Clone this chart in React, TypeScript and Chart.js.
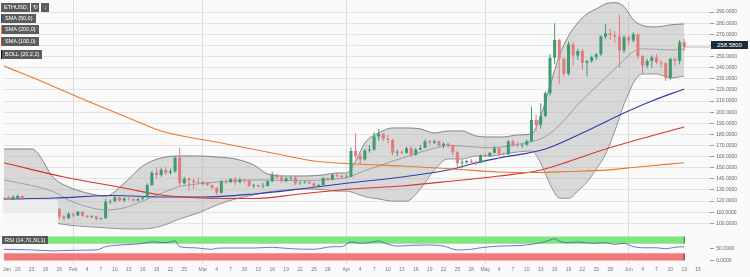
import React, { useEffect, useRef } from 'react';
import { Chart, registerables } from 'chart.js';

Chart.register(...registerables);

const FONT = '"Liberation Sans", Arial, sans-serif';

// Day index: 0 = 1 Jan 2019. Daily candles from 17 Jan (day 16) to 13 Jun (day 163).
const firstCandleDay = 16;

const opens = [
  122.0, 123.5, 121.5, 122.5, 124.5, 117.0, 116.2, 118.3, 116.4, 117.6,
  116.3, 116.0, 113.1, 106.1, 104.5, 108.7, 107.0, 110.5, 106.8, 105.8,
  106.4, 104.0, 104.5, 119.5, 120.0, 123.5, 120.5, 122.4, 121.8, 120.6,
  121.8, 123.3, 134.5, 145.5, 143.5, 148.0, 145.5, 146.8, 159.0, 136.0,
  140.0, 138.5, 137.0, 136.3, 136.8, 134.5, 132.0, 127.5, 137.5, 137.0,
  139.8, 137.0, 139.5, 138.8, 133.8, 134.5, 133.2, 133.6, 137.8, 143.8,
  141.2, 138.0, 140.3, 141.0, 136.0, 136.6, 137.2, 136.0, 133.2, 134.5,
  140.8, 139.5, 143.8, 142.8, 141.4, 142.0, 165.0, 160.5, 157.5, 165.5,
  166.5, 178.0, 180.5, 176.0, 175.0, 163.5, 164.5, 163.5, 167.5, 161.8,
  166.5, 167.8, 173.5, 172.5, 173.8, 170.0, 171.5, 170.5, 164.0, 154.0,
  155.0, 156.0, 155.0, 154.5, 161.0, 160.3, 163.5, 167.5, 162.5, 162.2,
  173.5, 170.3, 170.0, 170.6, 173.8, 193.0, 188.5, 196.5, 217.0, 249.0,
  265.0, 248.0, 234.5, 261.0, 251.0, 255.0, 244.5, 246.0, 249.5, 252.0,
  268.0, 271.0, 269.5, 268.0, 255.5, 267.5, 264.5, 270.0, 250.5, 242.0,
  246.0, 249.5, 244.8, 244.0, 231.0, 248.0, 246.3, 263.0,
];
const highs = [
  124.0, 124.5, 125.0, 126.0, 125.0, 118.0, 120.0, 119.0, 118.5, 118.5,
  119.5, 116.5, 113.5, 107.5, 110.0, 109.5, 111.0, 110.8, 107.5, 107.2,
  107.0, 105.0, 122.0, 121.5, 125.0, 124.0, 123.5, 124.5, 122.5, 123.0,
  124.5, 136.0, 147.0, 150.5, 150.0, 151.0, 149.0, 160.0, 168.0, 142.0,
  141.5, 140.0, 141.0, 138.0, 137.5, 135.0, 132.5, 139.0, 139.5, 140.5,
  142.0, 141.0, 140.0, 139.0, 135.5, 135.0, 136.5, 138.5, 146.5, 144.5,
  143.5, 141.5, 142.0, 142.5, 137.5, 138.5, 138.0, 136.8, 135.5, 141.5,
  141.0, 144.5, 145.5, 143.5, 144.0, 168.5, 181.0, 163.0, 167.0, 170.5,
  182.0, 185.0, 181.5, 179.5, 176.0, 166.5, 166.0, 169.0, 169.5, 168.0,
  170.5, 175.5, 175.0, 175.5, 174.5, 173.0, 172.5, 171.0, 165.5, 157.5,
  157.0, 158.0, 156.5, 162.0, 162.5, 164.0, 169.5, 168.5, 164.0, 175.0,
  175.5, 173.0, 171.5, 175.5, 205.0, 198.0, 208.0, 218.5, 252.0, 280.0,
  266.0, 249.0, 263.5, 263.0, 257.0, 257.0, 247.0, 251.0, 253.0, 269.0,
  279.0, 275.0, 273.0, 288.0, 269.0, 269.0, 272.0, 271.0, 251.5, 248.0,
  251.0, 252.0, 247.0, 245.0, 249.0, 249.0, 265.0, 266.0,
];
const lows = [
  119.0, 120.0, 120.5, 121.5, 115.5, 114.5, 113.0, 115.5, 115.0, 115.5,
  115.5, 111.5, 103.5, 102.5, 104.0, 105.5, 106.5, 106.0, 104.5, 104.8,
  102.5, 102.8, 104.0, 117.5, 118.5, 119.5, 119.0, 120.5, 119.5, 119.8,
  121.0, 122.5, 133.5, 140.0, 142.0, 143.5, 144.0, 145.5, 133.5, 135.0,
  129.5, 131.0, 135.5, 134.5, 133.5, 130.5, 125.5, 126.5, 135.5, 136.5,
  134.0, 136.0, 136.0, 132.5, 131.5, 132.5, 131.5, 133.0, 137.0, 140.0,
  136.5, 137.0, 138.5, 134.5, 134.5, 135.8, 135.0, 130.5, 132.0, 134.0,
  138.5, 139.0, 141.0, 140.5, 140.5, 141.5, 158.0, 153.5, 156.5, 163.5,
  165.5, 174.5, 174.0, 172.0, 161.0, 160.5, 162.0, 162.5, 159.5, 161.0,
  165.5, 167.5, 171.0, 171.5, 168.5, 167.5, 168.0, 161.0, 150.5, 149.5,
  153.5, 153.5, 152.0, 154.0, 159.5, 160.0, 162.5, 158.5, 161.0, 161.5,
  169.0, 168.5, 168.0, 169.5, 173.0, 183.0, 185.0, 195.5, 215.0, 243.0,
  225.0, 232.0, 233.0, 242.0, 247.0, 238.0, 232.0, 244.5, 247.0, 250.5,
  265.5, 265.0, 262.0, 240.0, 253.0, 260.0, 263.0, 248.0, 234.0, 239.5,
  240.0, 243.0, 240.0, 228.0, 229.0, 241.5, 243.0, 255.5,
];
const closes = [
  122.8, 121.5, 123.8, 124.5, 117.0, 116.2, 118.3, 116.4, 117.6, 116.3,
  116.0, 113.1, 106.1, 104.5, 108.7, 107.0, 110.5, 106.8, 105.8, 106.4,
  104.0, 104.5, 119.5, 120.0, 123.5, 120.5, 122.4, 121.8, 120.6, 121.8,
  123.3, 134.5, 145.5, 143.5, 148.0, 145.5, 146.8, 159.0, 136.0, 140.0,
  138.5, 137.0, 136.3, 136.8, 134.5, 132.0, 127.5, 137.5, 137.0, 139.8,
  137.0, 139.5, 138.8, 133.8, 134.5, 133.2, 133.6, 137.8, 143.8, 141.2,
  138.0, 140.3, 141.0, 136.0, 136.6, 137.2, 136.0, 133.2, 134.5, 140.8,
  139.5, 143.8, 142.8, 141.4, 142.0, 165.0, 160.5, 157.5, 165.5, 166.5,
  178.0, 180.5, 176.0, 175.0, 163.5, 164.5, 163.5, 167.5, 161.8, 166.5,
  167.8, 173.5, 172.5, 173.8, 170.0, 171.5, 170.5, 164.0, 154.0, 155.0,
  156.0, 155.0, 154.5, 161.0, 160.3, 163.5, 167.5, 162.5, 162.2, 173.5,
  170.3, 170.0, 170.6, 173.8, 193.0, 188.5, 196.5, 217.0, 249.0, 265.0,
  248.0, 234.5, 261.0, 251.0, 255.0, 244.5, 246.0, 249.5, 252.0, 268.0,
  271.0, 269.5, 268.0, 255.5, 267.5, 264.5, 270.0, 250.5, 242.0, 246.0,
  249.5, 244.8, 244.0, 231.0, 248.0, 246.3, 263.0, 258.58,
];

// Bollinger (20, 2)
const bbDays = [16, 22, 27, 30, 34, 38, 42, 46, 50, 54, 58, 62, 66, 70, 73, 77, 81, 85, 88, 90, 92, 94, 97, 100, 103, 106, 109, 112, 115, 118, 121, 124, 127, 130, 132, 134, 136, 138, 140, 142, 144, 146, 148, 150, 151, 152, 154, 157, 160, 163];
const bbUpper = [166.9, 166.9, 139.9, 132.7, 127.3, 124.5, 136, 151.6, 158.8, 160.6, 160.6, 159.7, 157.9, 152.5, 144.4, 142.6, 142.6, 143.5, 145.3, 145.3, 156.1, 172.3, 181.3, 185.8, 185.8, 184.9, 181.3, 183.1, 183.1, 178.6, 177.7, 177.7, 179.5, 180.4, 196.6, 223.6, 250.6, 268.6, 280.3, 288.4, 292.9, 297.4, 298.5, 295, 289, 283, 278, 276.7, 278.5, 279.4];
const bbMiddle = [139, 134, 128, 121, 115, 112, 114, 120, 127, 133, 135.5, 137.2, 138.2, 139, 139, 138.5, 138.5, 139, 140, 141, 144, 147.5, 151.5, 156, 160, 164, 167.5, 170, 169.5, 168.5, 168, 169, 171, 173.5, 176, 181, 188, 197, 207, 215, 223, 231, 239, 247, 251, 254.5, 257, 256.5, 256, 256.5];
const bbLower = [111, 103, 100.3, 98.5, 97, 96, 95, 95, 97.6, 104, 109.3, 116.5, 121.9, 125.5, 128.2, 130, 130.9, 130.5, 129, 129, 127, 124, 122, 120, 120, 131, 148, 158, 157.9, 160.6, 160.6, 162.4, 164.2, 165.1, 154.3, 135.4, 122.8, 122.5, 129.1, 137.2, 148.9, 162.4, 183.1, 207.4, 217, 226.3, 234.4, 234.4, 230.8, 232.6];

// Moving averages
const sma50Days = [16, 27, 40, 50, 59, 70, 80, 90, 102, 113, 117, 123, 133, 141, 150, 156, 163];
const sma50 = [121.9, 122.8, 125, 123.7, 123.7, 126.4, 130.9, 136.1, 141.7, 148.9, 153.4, 158.8, 166.9, 181.3, 199.3, 210.1, 220.9];
const sma100Days = [16, 29, 42, 50, 59, 70, 80, 91, 102, 113, 123, 131, 138, 145, 154, 163];
const sma100 = [154.5, 141.7, 131.8, 125.5, 122.8, 122.3, 126.4, 130.9, 133.6, 138.1, 142.6, 147, 155.5, 165.5, 176.5, 186.7];
const sma200Days = [16, 25, 33, 44, 50, 63, 74, 83, 92, 102, 113, 123, 131, 138, 146, 153, 163];
const sma200 = [241.6, 226.3, 211.9, 193, 183.1, 172.3, 163.3, 156.1, 153.4, 151.6, 148.9, 146.2, 145.7, 146.6, 147.9, 150.7, 154.5];

// RSI (14)
const rsiDays = [16, 22, 27, 31, 36, 38, 40, 44, 47, 48, 51, 53, 54, 57, 61, 62, 65, 70, 74, 78, 83, 85, 87, 89, 91, 93, 96, 97, 99, 101, 104, 107, 111, 114, 117, 119, 123, 128, 132, 134, 135, 136, 138, 140, 143, 146, 148, 150, 152, 155, 157, 159, 161, 163];
const rsiValues = [46.7, 44, 40, 42.5, 44, 57.5, 63, 67.5, 74, 78, 74, 81, 57.5, 53, 46.7, 51, 52, 52, 55, 49, 46.7, 52, 57.5, 57.5, 77, 71.5, 78, 81, 67.5, 60, 63, 64.5, 60, 44, 46.7, 53, 60, 63, 74, 85, 91, 80, 74, 77, 71.5, 74, 67.5, 71.5, 57.5, 53, 53, 49, 55, 57.5];

const lastPrice = 258.58;

// Axis ticks
const tickDays = [16.7, 19, 22, 25, 28, 31, 34, 37, 40, 43, 46, 49, 52, 55, 59, 62, 65, 68, 71, 74, 77, 80, 83, 86, 90, 93, 96, 99, 102, 105, 108, 111, 114, 117, 120, 123, 126, 129, 132, 135, 138, 141, 144, 147, 151, 154, 157, 160, 163, 166];
const tickLabels = ['Jan', '20', '23', '26', '29', 'Feb', '4', '7', '10', '13', '16', '19', '22', '25', 'Mar', '4', '7', '10', '13', '16', '19', '22', '25', '28', 'Apr', '4', '7', '10', '13', '16', '19', '22', '25', '28', 'May', '4', '7', '10', '13', '16', '19', '22', '25', '28', 'Jun', '4', '7', '10', '13', '16'];
const priceTicks = [100, 110, 120, 130, 140, 150, 160, 170, 180, 190, 200, 210, 220, 230, 240, 250, 260, 270, 280, 290];
const rsiTicks = [0, 50];

const legendItems = [
  { label: 'SMA (50,0)', color: '#2c3ea8', top: 14 },
  { label: 'SMA (200,0)', color: '#e8792e', top: 25 },
  { label: 'SMA (100,0)', color: '#d93434', top: 37 },
  { label: 'BOLL (20,2,2)', color: '#111111', top: 50 },
];

const GREEN = '#3e9a72';
const RED = '#df7c7e';

const boxBase: React.CSSProperties = {
  position: 'absolute',
  height: 9,
  lineHeight: '9px',
  padding: '0 3px',
  background: 'rgba(78,78,78,0.92)',
  color: '#ffffff',
  fontSize: 5.5,
  fontFamily: FONT,
  whiteSpace: 'nowrap',
  boxSizing: 'border-box',
};

export default function App() {
  const canvasRef = useRef<HTMLCanvasElement | null>(null);

  useEffect(() => {
    const canvas = canvasRef.current;
    if (!canvas) return;
    const candleX = closes.map((_, i) => firstCandleDay + i);
    const candleColors = closes.map((c, i) => (c >= opens[i] ? GREEN : RED));
    const pts = (xs: number[], ys: number[]) => xs.map((x, i) => ({ x, y: ys[i] }));
    const lineBase: any = {
      type: 'line',
      pointRadius: 0,
      pointHoverRadius: 0,
      cubicInterpolationMode: 'monotone',
      fill: false,
      xAxisID: 'x',
    };
    const lastDay = candleX[candleX.length - 1];

    const chart = new Chart(canvas, {
      type: 'bar',
      data: {
        datasets: [
          { ...lineBase, yAxisID: 'y', data: pts(bbDays, bbUpper), borderColor: '#6a6a6a', borderWidth: 0.8, backgroundColor: 'rgba(180,180,180,0.48)', fill: '+1', order: 6 },
          { ...lineBase, yAxisID: 'y', data: pts(bbDays, bbLower), borderColor: '#6a6a6a', borderWidth: 0.8, order: 6 },
          { ...lineBase, yAxisID: 'y', data: pts(bbDays, bbMiddle), borderColor: '#858585', borderWidth: 0.7, order: 5 },
          { ...lineBase, yAxisID: 'y', data: pts(sma200Days, sma200), borderColor: '#e8792e', borderWidth: 1.1, order: 4 },
          { ...lineBase, yAxisID: 'y', data: pts(sma100Days, sma100), borderColor: '#d93434', borderWidth: 1.1, order: 4 },
          { ...lineBase, yAxisID: 'y', data: pts(sma50Days, sma50), borderColor: '#2c3ea8', borderWidth: 1.1, order: 4 },
          { ...lineBase, yAxisID: 'y', data: [{ x: lastDay, y: lastPrice }, { x: 168.6, y: lastPrice }], borderColor: '#a8a8a8', borderWidth: 0.8, cubicInterpolationMode: 'default', order: 3 },
          {
            type: 'bar', xAxisID: 'x', yAxisID: 'y',
            data: candleX.map((x, i) => ({ x, y: [lows[i], highs[i]] })),
            backgroundColor: candleColors, borderWidth: 0, grouped: false, maxBarThickness: 1, order: 1,
          } as any,
          {
            type: 'bar', xAxisID: 'x', yAxisID: 'y',
            data: candleX.map((x, i) => ({ x, y: [opens[i], closes[i]] })),
            backgroundColor: candleColors, borderWidth: 0, grouped: false, maxBarThickness: 3, order: 0,
          } as any,
          { ...lineBase, yAxisID: 'yr', data: [{ x: 15, y: 100 }, { x: lastDay, y: 100 }], borderWidth: 0, backgroundColor: 'rgb(126,230,126)', fill: { value: 70 }, cubicInterpolationMode: 'default', order: 9 },
          { ...lineBase, yAxisID: 'yr', data: [{ x: 15, y: 30 }, { x: lastDay, y: 30 }], borderWidth: 0, backgroundColor: 'rgb(240,122,122)', fill: { value: 0 }, cubicInterpolationMode: 'default', order: 9 },
          { ...lineBase, yAxisID: 'yr', data: [{ x: lastDay, y: 70 }, { x: lastDay, y: 100 }], borderColor: '#1f6e1f', borderWidth: 1, cubicInterpolationMode: 'default', order: 8 },
          { ...lineBase, yAxisID: 'yr', data: [{ x: lastDay, y: 0 }, { x: lastDay, y: 30 }], borderColor: '#7a1f1f', borderWidth: 1, cubicInterpolationMode: 'default', order: 8 },
          { ...lineBase, yAxisID: 'yr', data: pts(rsiDays, rsiValues), borderColor: '#4658c0', borderWidth: 0.8, order: 2 },
        ],
      },
      options: {
        responsive: false,
        animation: false,
        events: [],
        layout: { padding: { left: 0, top: 0, right: 11, bottom: 0 } },
        plugins: { legend: { display: false }, tooltip: { enabled: false } },
        scales: {
          x: {
            type: 'linear',
            position: 'bottom',
            min: 16,
            max: 168.6,
            offset: false,
            afterBuildTicks: (axis: any) => {
              axis.ticks = tickDays.map((v) => ({ value: v }));
            },
            ticks: {
              autoSkip: false,
              maxRotation: 0,
              padding: 3,
              color: '#777777',
              font: { size: 5, family: FONT },
              callback: (_v: any, i: number) => tickLabels[i],
            },
            grid: {
              offset: false,
              drawTicks: false,
              lineWidth: 1,
              color: (ctx: any) => (/^[A-Z]/.test(tickLabels[ctx.index] || '') && tickLabels[ctx.index] !== 'Jan' ? '#dcdcdc' : 'rgba(0,0,0,0)'),
            },
            border: { display: false },
          },
          y: {
            type: 'linear',
            position: 'right',
            stack: 'panes',
            stackWeight: 229,
            min: 94,
            max: 300,
            beginAtZero: false,
            afterBuildTicks: (axis: any) => {
              axis.ticks = priceTicks.map((v) => ({ value: v }));
            },
            ticks: {
              autoSkip: false,
              padding: 2,
              color: '#666666',
              font: { size: 5, family: FONT },
              callback: (v: any) => Number(v).toFixed(4),
            },
            grid: { color: '#e4e4e4', tickLength: 4, tickColor: '#9a9a9a', lineWidth: 1 },
            border: { display: false },
          },
          yr: {
            type: 'linear',
            position: 'right',
            stack: 'panes',
            stackWeight: 34,
            min: -14.6,
            max: 127,
            beginAtZero: false,
            afterBuildTicks: (axis: any) => {
              axis.ticks = rsiTicks.map((v) => ({ value: v }));
            },
            ticks: {
              autoSkip: false,
              padding: 2,
              color: '#666666',
              font: { size: 5, family: FONT },
              callback: (v: any) => Number(v).toFixed(4),
            },
            grid: { drawOnChartArea: false, tickLength: 4, tickColor: '#9a9a9a' },
            border: { display: false },
          },
        },
      } as any,
    } as any);

    return () => chart.destroy();
  }, []);

  return (
    <div style={{ position: 'absolute', left: 0, top: 0, width: 750, height: 277, background: '#fafafa', overflow: 'hidden' }}>
      <canvas ref={canvasRef} width={750} height={280} style={{ position: 'absolute', left: 0, top: -4, display: 'block', width: 750, height: 280 }} />
      <div style={{ ...boxBase, left: 1, top: 3, width: 29 }}>ETHUSD, 1D</div>
      <div style={{ ...boxBase, left: 31, top: 3, width: 8, padding: 0, textAlign: 'center' }}>↻</div>
      <div style={{ ...boxBase, left: 41, top: 3, width: 8, padding: 0, textAlign: 'center' }}>↓</div>
      {legendItems.map((it) => (
        <div key={it.label} style={{ ...boxBase, left: 1, top: it.top, borderLeft: `1.5px solid ${it.color}` }}>{it.label}</div>
      ))}
      <div style={{ ...boxBase, left: 2, top: 236, height: 8, lineHeight: '8px' }}>RSI (14,70,30,1)</div>
      <div style={{ position: 'absolute', left: 3, top: 200, width: 55, height: 13, background: '#ececec' }} />
      <div style={{ position: 'absolute', left: 3, top: 213, width: 55, height: 11, background: '#f7f7f7' }} />
      <div style={{ ...boxBase, left: 711, top: 41, width: 37, height: 8, lineHeight: '8px', padding: 0, textAlign: 'center', background: '#1d2a3a', fontSize: 6 }}>
        {lastPrice.toFixed(4)}
      </div>
    </div>
  );
}
